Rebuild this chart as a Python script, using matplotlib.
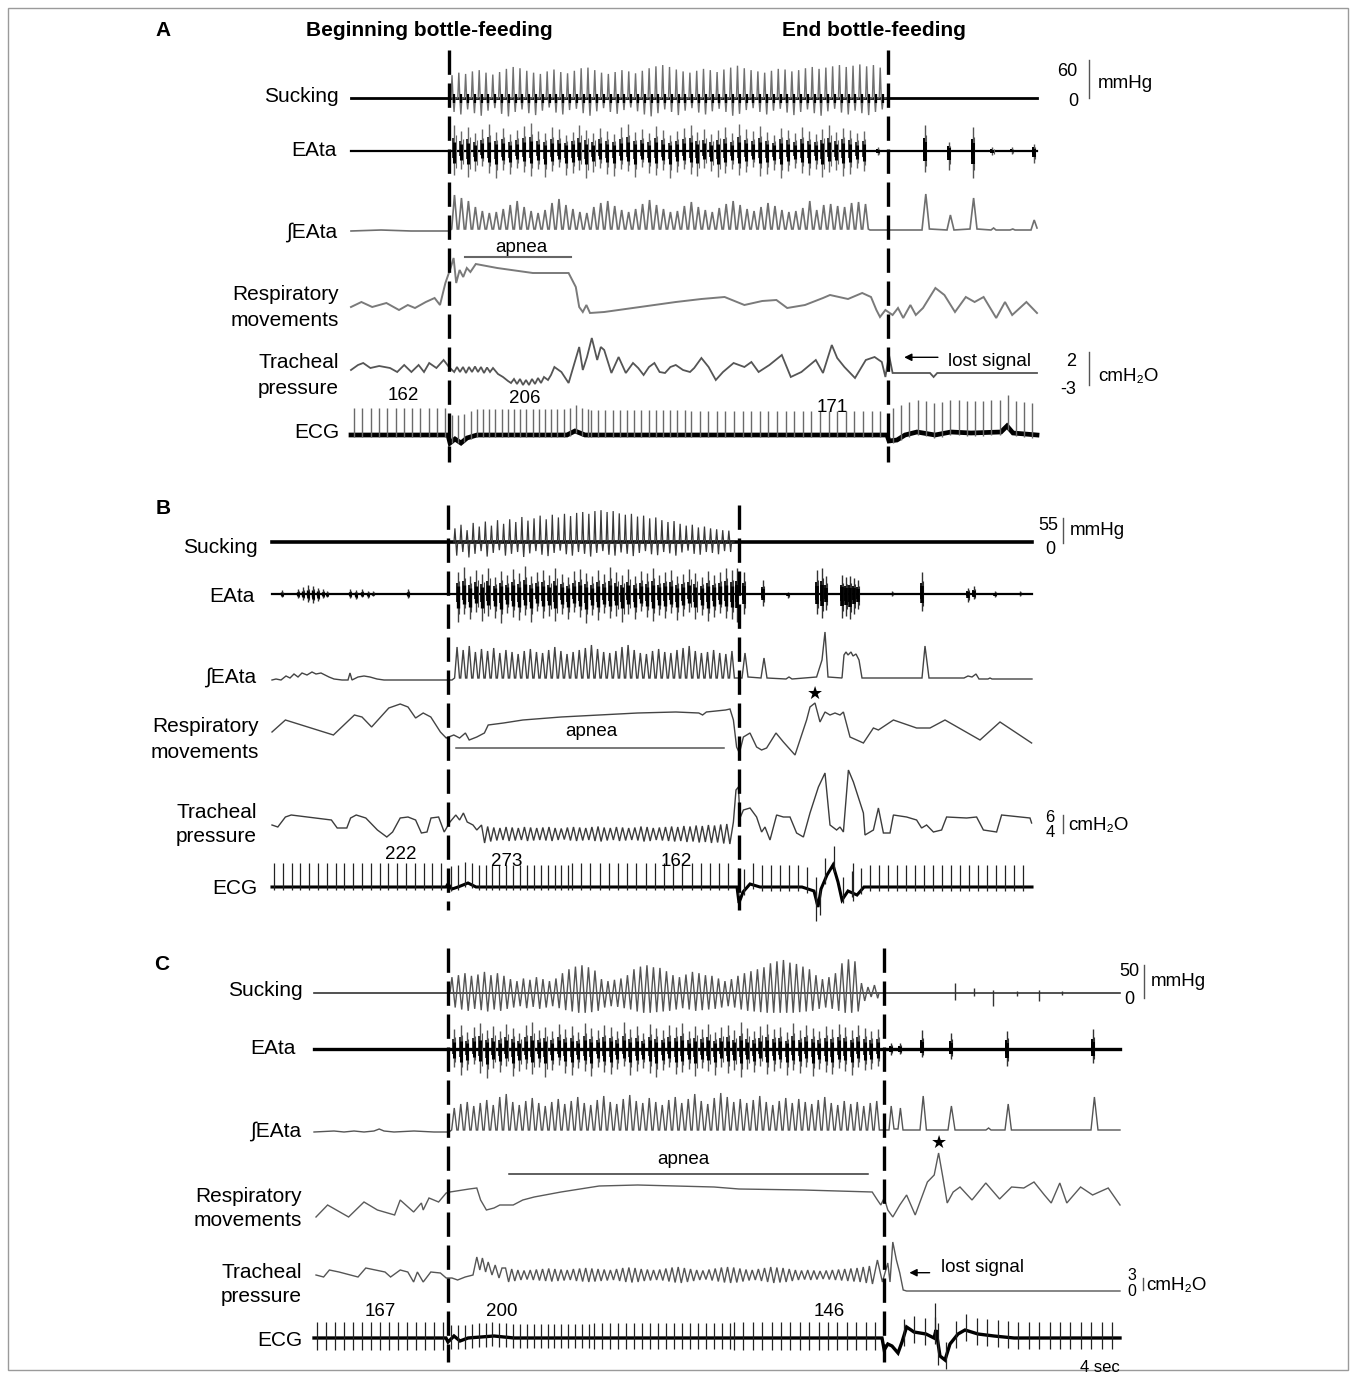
import numpy as np
import matplotlib
matplotlib.use("Agg")
import matplotlib.pyplot as plt
from matplotlib.lines import Line2D
from matplotlib.patches import Rectangle, FancyArrowPatch

plt.rcParams['font.family'] = ['Liberation Sans', 'DejaVu Sans']

# ======================= DATA (time in s, amplitudes in mmHg or a.u.) =======================
# ---------- Panel A ----------
A_duration = 34.3
A_feed = [4.9, 26.85]
sucA_window = [5.0, 26.75]
sucA_peak = [36, 40, 38, 42, 44, 40, 37, 41, 46, 49, 47, 43, 40, 38, 42, 45, 41, 39, 43, 47,
             48, 44, 40, 38, 41, 44, 42, 39, 43, 47, 50, 52, 49, 45, 42, 40, 43, 46, 44, 41,
             45, 48, 51, 47, 44, 42, 40, 43, 46, 45, 42, 44, 47, 49, 46, 48, 50, 52, 49, 51,
             53, 50, 52, 48]
sucA_trough = [-22, -26, -18, -24, -28, -20, -16, -25, -29, -22, -18, -24, -27, -20, -15, -23,
               -26, -19, -17, -24, -28, -21, -16, -22, -25, -19, -15, -21, -26, -29, -24, -18,
               -22, -27, -20, -16, -23, -26, -21, -17, -22, -28, -25, -19, -16, -22, -26, -20,
               -17, -23, -27, -22, -18, -24, -28, -21, -17, -23, -26, -20, -24, -27, -22, -18]
eaA_window = [5.0, 25.83]
eaA_up = [26, 20, 24, 18, 22, 27, 19, 23, 17, 21, 25, 28, 20, 18, 24, 22, 16, 19, 26, 21,
          18, 23, 20, 17, 24, 27, 19, 22, 18, 25, 21, 16, 20, 23, 26, 19, 22, 17, 21, 24,
          18, 27, 22, 20, 25, 19, 16, 23, 21, 18, 24, 20, 17, 22, 26, 19, 23, 21, 18, 20]
eaA_dn = [24, 18, 26, 20, 15, 22, 27, 19, 23, 17, 21, 25, 18, 26, 20, 16, 24, 22, 19, 27,
          21, 17, 23, 25, 18, 20, 26, 16, 22, 24, 19, 27, 21, 18, 23, 25, 17, 20, 26, 22,
          18, 24, 21, 16, 25, 23, 19, 27, 20, 17, 22, 24, 18, 26, 21, 19, 25, 23, 17, 20]
eaA_post_t = [26.36, 28.68, 29.88, 31.09, 32.07, 33.06, 34.13]
eaA_post_up = [4, 26, 9, 24, 4, 4, 7]
eaA_post_dn = [4, 21, 19, 27, 4, 3, 12]
ieA_window = [5.0, 25.9]
ieA_peak = [36, 33, 30, 24, 20, 18, 19, 22, 26, 30, 24, 20, 18, 21, 28, 32, 26, 22, 19, 18,
            24, 28, 30, 25, 21, 19, 22, 27, 31, 26, 22, 19, 20, 25, 29, 24, 21, 19, 23, 27,
            30, 26, 22, 20, 24, 28, 25, 21, 19, 20, 23, 30, 21, 26, 27, 25, 24, 28, 29, 27]
ieA_pre_t = [0, 1.5, 3.0, 4.9]
ieA_pre_v = [0, 1, 0, 0]
ieA_post_t = [25.95, 28.55, 28.74, 28.92, 29.8, 29.97, 30.15, 30.95, 31.13, 31.3, 32.0, 32.13,
              32.25, 32.95, 33.09, 33.2, 34.0, 34.16, 34.3]
ieA_post_v = [1, 1, 37, 2, 1, 16, 1, 2, 33, 2, 1, 3, 1, 1, 2, 1, 1, 11, 3]
respA_t = [0, 0.52, 1.06, 1.77, 2.4, 2.84, 3.2, 3.74, 4.18, 4.45, 4.72, 4.98, 5.13, 5.26, 5.43,
           5.61, 5.79, 5.97, 6.24, 7.31, 9.09, 9.99, 10.88, 11.24, 11.41, 11.59, 11.77, 11.95,
           12.66, 14.45, 16.24, 17.52, 18.68, 19.67, 20.56, 21.27, 21.81, 22.7, 23.6, 23.95,
           24.85, 25.56, 26.0, 26.27, 26.45, 26.72, 27.08, 27.35, 27.61, 27.97, 28.24, 28.6,
           29.22, 29.67, 30.2, 30.74, 31.18, 31.63, 32.26, 32.7, 33.06, 33.77, 34.3]
respA_v = [3, 8, 3, 7, 0, 5, 2, 8, 12, 5, 27, 42, 52, 27, 40, 33, 42, 38, 46, 42, 37, 37, 37,
           23, 3, -2, 5, -3, -2, 3, 8, 11, 13, 5, 9, 10, 2, 5, 12, 15, 11, 17, 13, 0, -7, 0,
           -5, 2, -8, 5, -5, 2, 22, 15, -2, 13, 8, 13, -8, 8, -5, 8, -3]
trA_t = [0, 0.35, 0.61, 0.97, 1.41, 1.95, 2.31, 2.66, 3.02, 3.38, 3.65, 3.91, 4.27, 4.63, 4.9,
         5.16, 5.3, 5.45, 5.6, 5.75, 5.9, 6.05, 6.2, 6.35, 6.5, 6.65, 6.8, 6.95, 7.1, 7.35,
         7.6, 7.85, 8.0, 8.15, 8.3, 8.45, 8.6, 8.75, 8.9, 9.05, 9.2, 9.35, 9.5, 9.65, 9.85,
         10.0, 10.17, 10.52, 10.88, 11.41, 11.59, 11.8, 12.04, 12.31, 12.49, 12.66, 13.02,
         13.38, 13.74, 14.1, 14.36, 14.63, 14.9, 15.17, 15.43, 15.7, 15.97, 16.24, 16.6,
         16.95, 17.16, 17.52, 17.88, 18.24, 18.6, 19.13, 19.67, 20.02, 20.38, 20.92, 21.54,
         21.99, 22.52, 23.24, 23.6, 24.04, 24.31, 24.67, 25.2, 25.74, 26.18, 26.54, 26.72,
         26.9, 27.08, 27.35, 28.95, 29.13, 29.31, 34.3]
trA_v = [2, 7, 9, 4, 6, 4, 0, 7, 0, 7, 0, 9, 4, 12, 5, 0, 5, 0, 5, -1, 5, 0, 5.5, 0, 5, -1,
         4.5, 0, 4, -2, -5, -9, -11, -7, -12, -7, -13, -8, -13, -7, -12, -6, -11, -5, -8, -3,
         5, 0, -11, 25, 2, 15, 34, 12, 25, 22, -1, 15, -1, 9, 4, -3, 5, 9, 0, -1, 5, 7, 2, 0,
         4, 14, 5, -8, 0, 9, 5, 10, 0, 7, 17, -5, 0, 12, -1, 27, 14, 5, -6, 12, 15, 10, -5,
         17, -1, -1, -1, -5, -1, -1]
ecgA_start = [0.15, 5.05, 12.0, 17.0, 27.1]
ecgA_end = [4.8, 12.0, 17.0, 26.8, 34.25]
ecgA_rr = [0.415, 0.31, 0.36, 0.43, 0.41]
ecgA_h = [27, 26, 25, 24, 32]
ecgA_d = [2, 2, 2, 2, 3]
ecgA_base_t = [0, 4.85, 4.95, 5.2, 5.5, 5.8, 6.3, 10.8, 11.2, 11.7, 26.8, 26.9, 27.3, 27.7,
               28.3, 29.2, 30.0, 31.0, 32.5, 32.8, 33.1, 34.3]
ecgA_base_v = [0, 0, -8, -4, -8, -3, 0, 0, 4, 0, 0, -6, -5, 0, 3, 0, 3, 2, 3, 9, 2, 0]
hrA_labels = ['162', '206', '171']

# ---------- Panel B ----------
B_duration = 38.0
B_feed = [8.8, 23.35]
sucB_window = [9.1, 23.1]
sucB_peak = [30, 38, 26, 42, 34, 45, 36, 48, 40, 50, 44, 55, 47, 52, 58, 50, 60, 54, 62, 57,
             64, 66, 62, 68, 70, 66, 68, 63, 60, 62, 56, 58, 52, 54, 48, 44, 46, 40, 36, 38,
             32, 34, 30, 28, 26, 25]
sucB_trough = [-30, -22, -34, -26, -20, -32, -24, -18, -30, -26, -22, -33, -25, -20, -28, -31,
               -24, -19, -27, -30, -22, -26, -32, -24, -20, -28, -30, -23, -26, -31, -24, -20,
               -27, -29, -22, -25, -30, -23, -19, -26, -28, -22, -24, -27, -20, -22]
eaB_window = [9.15, 23.15]
eaB_up = [22, 27, 18, 24, 20, 26, 17, 23, 19, 25, 21, 28, 18, 22, 24, 19, 26, 20, 17, 23,
          25, 21, 18, 24, 20, 27, 22, 19, 25, 18, 23, 21, 26, 19, 22, 24, 18, 20, 25, 21,
          17, 23, 19, 22, 26, 24]
eaB_dn = [28, 20, 25, 18, 27, 22, 24, 29, 19, 23, 26, 21, 28, 17, 24, 22, 27, 20, 25, 18,
          23, 29, 21, 26, 19, 24, 22, 28, 20, 25, 17, 23, 27, 21, 24, 19, 26, 22, 18, 25,
          21, 27, 23, 19, 24, 25]
eaB_pre_t = [0.48, 1.3, 1.55, 1.8, 2.05, 2.3, 2.55, 2.75, 3.9, 4.2, 4.5, 4.8, 5.05, 6.8]
eaB_pre_up = [4, 5, 7, 9, 8, 6, 5, 3, 5, 4, 5, 3, 3, 5]
eaB_pre_dn = [3, 4, 6, 8, 9, 7, 4, 3, 4, 5, 3, 4, 2, 4]
eaB_post_t = [23.25, 23.6, 24.55, 25.8, 27.25, 27.5, 27.7, 28.5, 28.7, 28.9, 29.1, 29.3, 31.0,
              32.5, 34.8, 35.1, 36.15, 37.4]
eaB_post_up = [26, 22, 14, 2, 24, 26, 18, 19, 17, 18, 16, 14, 3, 22, 6, 8, 3, 3]
eaB_post_dn = [28, 20, 12, 4, 20, 24, 16, 24, 22, 25, 20, 15, 2, 17, 8, 5, 3, 2]
ieB_window = [9.1, 23.15]
ieB_peak = [33, 30, 34, 28, 31, 29, 32, 27, 30, 28, 26, 29, 31, 28, 27, 30, 33, 29, 26, 28,
            30, 32, 35, 31, 28, 27, 29, 33, 35, 30, 27, 26, 29, 31, 28, 27, 30, 32, 34, 29,
            27, 28, 30, 27, 26, 29]
ieB_pre_t = [0, 0.2, 0.45, 0.7, 0.9, 1.1, 1.3, 1.5, 1.75, 2.0, 2.2, 2.45, 2.65, 2.85, 3.1,
             3.5, 3.8, 3.9, 4.0, 4.3, 4.6, 4.9, 5.25, 5.6, 9.0]
ieB_pre_v = [0, 1, 0, 4, 2, 6, 3, 7, 5, 8, 6, 7, 5, 3, 1, 0, 0, 7, 0, 3, 4, 3, 1, 0, 0]
ieB_post_t = [23.15, 23.5, 23.65, 23.8, 24.45, 24.6, 24.75, 25.7, 25.85, 26.0, 27.23, 27.5,
              27.65, 27.8, 28.5, 28.6, 28.7, 28.8, 28.95, 29.05, 29.2, 29.35, 29.5, 32.5,
              32.65, 32.85, 34.6, 34.8, 35.0, 35.2, 35.35, 35.8, 35.9, 36.0, 38.0]
ieB_post_v = [2, 2, 27, 3, 2, 22, 2, 1, 3, 1, 3, 20, 48, 3, 2, 25, 28, 25, 28, 24, 26, 20, 2,
              2, 34, 2, 2, 4, 3, 6, 1, 1, 2, 1, 1]
respB_t = [0, 0.67, 3.07, 4.12, 4.5, 4.98, 5.84, 6.41, 6.8, 7.18, 7.56, 7.94, 8.42, 8.71, 9.09,
           9.38, 9.67, 9.86, 10.24, 10.62, 10.81, 11.58, 12.54, 14.45, 16.36, 18.28, 20.19,
           21.34, 21.53, 21.72, 22.68, 22.9, 23.07, 23.23, 23.37, 23.57, 23.9, 24.23, 24.48,
           24.73, 25.2, 25.57, 26.15, 26.73, 26.9, 27.15, 27.4, 27.65, 27.9, 28.15, 28.4,
           28.57, 28.9, 29.57, 30.07, 30.32, 31.07, 32.23, 32.9, 33.65, 35.4, 36.4, 37.98]
respB_v = [8, 20, 5, 25, 23, 13, 32, 36, 33, 22, 27, 23, 8, 2, 5, 2, 7, 0, 3, 7, 15, 17, 20,
           23, 25, 27, 28, 27, 25, 28, 30, 31, 20, -7, -13, 3, 7, -7, -10, -8, 7, -2, -15, 20,
           33, 37, 18, 28, 25, 27, 25, 28, 3, -3, 12, 10, 20, 12, 12, 20, 0, 18, -3]
trB_pre_t = [0, 0.29, 0.67, 0.96, 2.97, 3.26, 3.74, 3.93, 4.21, 4.69, 5.27, 5.74, 6.03, 6.41,
             6.8, 7.18, 7.47, 7.75, 7.95, 8.33, 8.61, 8.9, 9.19, 9.38, 9.57, 9.76, 10.05, 10.24]
trB_pre_v = [5, 3, 13, 15, 10, 2, 2, 12, 15, 12, 0, -7, -2, 12, 13, 10, -3, -2, 12, 13, -2, 8,
             15, 10, 17, 8, 5, 0]
trB_osc_window = [10.4, 22.97]
trB_osc_mid = -4
trB_osc_amp = [18, 15, 13, 12, 14, 13, 12, 14, 13, 12, 13, 14, 12, 11, 13, 14, 13, 12, 14, 15,
               13, 12, 14, 13, 12, 13, 15, 14, 12, 13, 14, 15, 14, 16, 15, 17, 16, 18, 17, 19, 20]
trB_post_t = [23.07, 23.2, 23.32, 23.4, 23.57, 23.9, 24.23, 24.48, 24.65, 24.9, 25.23, 25.57,
              25.9, 26.23, 26.57, 26.9, 27.32, 27.65, 27.9, 28.23, 28.4, 28.57, 28.82, 29.07,
              29.57, 29.65, 30.07, 30.32, 30.57, 30.9, 31.07, 31.73, 32.23, 32.48, 32.73, 33.07,
              33.48, 33.73, 34.73, 35.23, 35.57, 36.23, 36.48, 37.4, 37.9, 37.98]
trB_post_v = [8, 40, 43, 12, 20, 22, 13, -2, 3, -10, 15, 13, 13, -3, -7, 17, 43, 57, 5, 0, 3,
              -2, 60, 48, 17, -5, 0, 22, -3, -3, 15, 13, 10, 2, 5, -2, 0, 13, 12, 13, 0, -2, 15,
              13, 12, 7]
ecgB_start = [0.1, 8.95, 15.0, 23.6]
ecgB_end = [8.75, 15.0, 23.3, 37.95]
ecgB_rr = [0.44, 0.345, 0.46, 0.45]
ecgB_h = [24, 22, 24, 22]
ecgB_d = [3, 3, 3, 4]
ecgB_extra_t = [27.2, 27.4, 29.05]
ecgB_extra_h = [8, 5, 30]
ecgB_extra_d = [22, 20, 8]
ecgB_base_t = [0, 8.7, 8.8, 9.0, 9.3, 9.8, 10.2, 23.25, 23.35, 23.55, 23.9, 24.4, 26.5, 27.1,
               27.3, 27.45, 27.75, 28.05, 28.3, 28.5, 28.8, 29.25, 29.6, 38.0]
ecgB_base_v = [0, 0, 3, -2, 0, 4, 0, 0, -16, -5, 3, 0, 0, -4, -20, -2, 12, 22, 5, -13, -4, -8,
               0, 0]
hrB_labels = ['222', '273', '162']

# ---------- Panel C ----------
C_duration = 40.3
C_feed = [6.7, 28.48]
sucC_window = [6.8, 28.25]
sucC_peak = [24, 27, 30, 26, 28, 32, 27, 30, 26, 21, 18, 22, 20, 24, 21, 18, 22, 30, 36, 40,
             42, 39, 34, 21, 18, 20, 22, 27, 36, 40, 42, 39, 38, 33, 27, 24, 28, 32, 30, 27,
             26, 22, 18, 21, 26, 30, 33, 36, 39, 45, 48, 50, 46, 44, 40, 36, 27, 21, 24, 30,
             45, 51, 48, 15, 9, 12]
sucC_trough = [-22, -25, -27, -24, -26, -28, -25, -27, -24, -22, -20, -23, -21, -24, -22, -20,
               -23, -26, -28, -30, -30, -29, -27, -22, -20, -21, -23, -25, -28, -30, -30, -29,
               -28, -27, -25, -23, -25, -27, -26, -25, -24, -22, -20, -22, -25, -27, -28, -29,
               -30, -30, -30, -30, -30, -29, -28, -27, -24, -22, -24, -27, -30, -30, -28, -12,
               -6, -8]
sucC_post_t = [32.04, 32.99, 33.94, 35.14, 36.26, 37.38]
sucC_post_up = [15, 8, 5, 3, 5, 3]
sucC_post_dn = [11, 5, 20, 4, 12, 3]
eaC_window = [6.85, 28.35]
eaC_up = [20, 24, 17, 22, 26, 19, 23, 18, 25, 21, 16, 24, 27, 19, 22, 18, 25, 20, 23, 17,
          26, 21, 19, 24, 22, 18, 27, 20, 23, 16, 25, 21, 19, 24, 22, 26, 18, 23, 20, 25,
          17, 22, 24, 19, 27, 21, 18, 23, 25, 20, 22, 17, 26, 19, 24, 21, 18, 23, 20, 25,
          22, 19, 24, 21, 18, 20]
eaC_dn = [18, 26, 21, 15, 24, 29, 19, 23, 17, 27, 22, 20, 25, 18, 28, 21, 16, 24, 26, 19,
          22, 27, 18, 23, 25, 20, 17, 26, 22, 19, 24, 28, 21, 18, 25, 23, 20, 27, 19, 22,
          26, 18, 24, 21, 28, 20, 23, 17, 25, 22, 19, 26, 21, 24, 18, 27, 20, 23, 25, 19,
          22, 26, 18, 21, 20, 17]
eaC_post_t = [28.86, 29.28, 30.4, 31.84, 34.63, 38.93]
eaC_post_up = [6, 6, 19, 16, 18, 20]
eaC_post_dn = [6, 5, 8, 10, 17, 14]
ieC_window = [6.85, 28.3]
ieC_peak = [24, 28, 30, 26, 29, 32, 27, 35, 38, 30, 27, 31, 34, 29, 26, 30, 33, 28, 31, 35,
            29, 27, 32, 36, 30, 28, 33, 37, 31, 29, 34, 30, 27, 32, 35, 29, 33, 38, 31, 28,
            34, 39, 35, 30, 33, 29, 32, 36, 30, 27, 31, 34, 29, 33, 30, 28, 32, 35, 29, 27,
            31, 28, 30, 26, 29, 31]
ieC_pre_t = [0, 1.0, 1.5, 2.0, 2.5, 3.0, 3.26, 3.5, 4.0, 5.0, 6.0, 6.75]
ieC_pre_v = [0, 1, 0, 1, 0, 1, 3, 1, 0, 1, 0, 0]
ieC_post_t = [28.3, 28.75, 28.86, 29.0, 29.2, 29.32, 29.45, 30.3, 30.46, 30.62, 31.7, 31.87,
              32.05, 33.6, 33.73, 33.85, 34.55, 34.71, 34.87, 38.85, 39.02, 39.2, 40.3]
ieC_post_v = [2, 2, 26, 3, 3, 24, 2, 2, 36, 2, 2, 26, 2, 2, 4, 2, 2, 28, 2, 2, 35, 2, 2]
respC_t = [0.1, 0.68, 1.73, 2.5, 3.17, 4.03, 4.31, 4.98, 5.37, 5.46, 5.75, 6.23, 6.61, 6.8,
           7.76, 8.14, 8.33, 8.62, 9.0, 9.29, 9.96, 10.44, 11.01, 12.35, 14.26, 16.18, 18.09,
           20.0, 21.25, 24.47, 27.91, 28.17, 28.34, 28.51, 28.69, 28.94, 29.29, 29.63, 30.06,
           30.67, 31.01, 31.23, 31.44, 31.66, 31.96, 32.3, 32.9, 33.59, 34.28, 34.88, 35.49,
           36.0, 36.52, 36.86, 37.29, 37.64, 38.33, 38.93, 39.71, 40.3]
respC_v = [-7, 5, -7, 8, 0, -5, 10, -2, 7, 0, 12, 8, 17, 18, 21, 22, 10, 0, 2, 5, 5, 10, 13,
           18, 24, 25, 24, 23, 21, 20, 18, 10, 5, 12, 0, -7, 5, 15, -5, 28, 35, 57, 33, 7, 18,
           23, 10, 27, 11, 23, 22, 28, 15, 7, 27, 7, 23, 15, 22, 5]
trC_pre_t = [0.1, 0.48, 0.77, 1.25, 2.2, 2.59, 3.55, 3.83, 4.31, 4.69, 4.98, 5.17, 5.46, 5.84,
             6.32, 6.61, 6.9, 7.18, 7.56, 7.95, 8.14, 8.29, 8.42, 8.58, 8.71, 8.9, 9.06, 9.25, 9.4]
trC_pre_v = [5, 3, 10, 8, 3, 12, 8, 3, 10, 8, -2, 8, -2, 8, 7, 2, 2, 0, 3, 5, 23, 10, 22, 8,
             18, 5, 15, 2, 12]
trC_osc_window = [9.5, 28.0]
trC_osc_mid = 5
trC_osc_amp = [14, 12, 10, 9, 10, 11, 12, 13, 12, 11, 10, 12, 13, 14, 13, 12, 11, 10, 12, 14,
               15, 14, 12, 11, 10, 11, 13, 15, 16, 14, 12, 10, 9, 11, 13, 15, 16, 15, 13, 11,
               10, 12, 14, 16, 15, 14, 12, 10, 9, 10, 9, 8, 9, 10, 11, 12, 13, 14, 16, 18]
trC_post_t = [28.17, 28.42, 28.69, 28.8, 28.94, 29.12, 29.29, 29.46, 29.63, 40.3]
trC_post_v = [20, -2, 17, -2, 38, 20, 7, -10, -11, -11]
ecgC_start = [0.15, 6.85, 14.0, 21.0, 29.5]
ecgC_end = [6.6, 14.0, 21.0, 28.4, 40.25]
ecgC_rr = [0.45, 0.345, 0.4, 0.47, 0.52]
ecgC_h = [16, 14, 15, 16, 16]
ecgC_d = [12, 10, 11, 12, 11]
ecgC_extra_t = [31.05, 31.2]
ecgC_extra_h = [31, 20]
ecgC_extra_d = [5, 22]
ecgC_base_t = [0, 6.6, 6.7, 7.0, 7.3, 7.7, 9.0, 10.0, 28.4, 28.51, 28.69, 28.9, 29.2, 29.4,
               29.63, 30.0, 30.6, 31.0, 31.1, 31.3, 31.55, 31.8, 32.2, 32.55, 33.2, 34.0, 35.0,
               40.3]
ecgC_base_v = [0, 0, -4, 2, -3, 0, 2, 0, 0, -12, -6, -8, -15, -4, 11, 6, 4, 0, 8, -18, -22, -6,
               4, 8, 4, 2, 0, 0]
hrC_labels = ['167', '200', '146']

# ======================= LAYOUT (pixels of the 1356 x 1374 canvas) =======================
W, H = 1356, 1374
PX_PER_S = 20.0
fig = plt.figure(figsize=(W / 100, H / 100), dpi=100)


def ftext(x, y, s, **kw):
    kw.setdefault('va', 'center')
    fig.text(x / W, 1 - y / H, s, **kw)


def fline(xs, ys, **kw):
    fig.add_artist(Line2D(np.array(xs) / W, 1 - np.array(ys) / H,
                          transform=fig.transFigure, **kw))


def panel_axes(x0, dur, top, bottom):
    ax = fig.add_axes([x0 / W, 1 - bottom / H, dur * PX_PER_S / W, (bottom - top) / H])
    ax.set_xlim(0, dur)
    ax.set_ylim(bottom, top)
    ax.axis('off')
    return ax


def plot_trace(ax, base, gain, t, v, **kw):
    ax.plot(t, base - gain * np.asarray(v, float), clip_on=False, solid_joinstyle='miter', **kw)


def spiky_wave(window, peaks, troughs):
    n = len(peaks)
    t0, t1 = window
    P = (t1 - t0) / n
    ts, vs = [t0], [0]
    for i in range(n):
        tc = t0 + i * P
        ts += [tc + 0.15 * P, tc + 0.3 * P, tc + 0.45 * P, tc + 0.6 * P, tc + P]
        vs += [peaks[i], 0, troughs[i], 0, 0]
    return ts, vs


def sine_wave(window, peaks, troughs):
    n = len(peaks)
    t0, t1 = window
    P = (t1 - t0) / n
    ts, vs = [t0], [0]
    for i in range(n):
        tc = t0 + i * P
        ts += [tc + 0.3 * P, tc + 0.8 * P]
        vs += [peaks[i], troughs[i]]
    ts.append(t1)
    vs.append(0)
    return ts, vs


def integ_wave(window, peaks, trough=2):
    n = len(peaks)
    t0, t1 = window
    P = (t1 - t0) / n
    ts, vs = [], []
    for i in range(n):
        tc = t0 + i * P
        ts += [tc + 0.1 * P, tc + 0.5 * P, tc + 0.9 * P]
        vs += [trough, peaks[i], trough]
    return ts, vs


def osc_wave(window, amps, mid):
    n = len(amps)
    t0, t1 = window
    P = (t1 - t0) / n
    ts, vs = [], []
    for i in range(n):
        tc = t0 + i * P
        ts += [tc + 0.25 * P, tc + 0.75 * P]
        vs += [mid + amps[i] / 2, mid - amps[i] / 2]
    return ts, vs


def burst_times(window, n):
    t0, t1 = window
    P = (t1 - t0) / n
    return t0 + (np.arange(n) + 0.5) * P


def draw_bursts(ax, base, times, ups, dns, gray, core_lw):
    times = np.asarray(times, float)
    ups = np.asarray(ups, float)
    dns = np.asarray(dns, float)
    ax.vlines(times, base + dns, base - ups, color=gray, lw=1.0, clip_on=False)
    ax.vlines(times + 0.06, base + 0.7 * dns, base - 0.6 * ups, color=gray, lw=0.8,
              clip_on=False)
    ax.vlines(times, base + 0.5 * dns, base - 0.35 * ups, color='black', lw=core_lw,
              clip_on=False)
    ax.vlines(times - 0.05, base + 0.3 * dns, base - 0.5 * ups, color='black',
              lw=core_lw * 0.5, clip_on=False)


def draw_ecg(ax, base, bt, bv, starts, ends, rrs, hs, ds, spike_col, base_lw, spike_lw,
             extra=None):
    plot_trace(ax, base, 1, bt, bv, color='black', lw=base_lw)
    beats, hh, dd = [], [], []
    for s, e, r, h, d in zip(starts, ends, rrs, hs, ds):
        b = np.arange(s, e, r)
        beats += list(b)
        hh += [h] * len(b)
        dd += [d] * len(b)
    if extra is not None:
        beats += list(extra[0])
        hh += list(extra[1])
        dd += list(extra[2])
    beats = np.array(beats)
    b0 = base - np.interp(beats, bt, bv)
    ax.vlines(beats, b0 + np.array(dd), b0 - np.array(hh), color=spike_col, lw=spike_lw,
              clip_on=False)


def draw_dashed(ax, t, y0, y1):
    ax.plot([t, t], [y0, y1], color='black', lw=2.4, dashes=(7.3, 2.6), clip_on=False,
            solid_capstyle='butt', dash_capstyle='butt')


LABEL_FS = 15
SMALL_FS = 13.5

# ---------------- Panel A ----------------
LA = dict(x0=351, top=40, bottom=470, suck=98, eata=151, ie=231, resp=310, trach=372, ecg=435,
          gain=38 / 60)
ax = panel_axes(LA['x0'], A_duration, LA['top'], LA['bottom'])
plot_trace(ax, LA['suck'], 1, [0, A_duration], [0, 0], color='black', lw=2.0)
ts, vs = spiky_wave(sucA_window, sucA_peak, sucA_trough)
plot_trace(ax, LA['suck'], LA['gain'], ts, vs, color='#707070', lw=1.0)
bt = burst_times(sucA_window, len(sucA_peak))
ax.vlines(bt, LA['suck'] + 5, LA['suck'] - 4, color='black', lw=1.6)
plot_trace(ax, LA['eata'], 1, [0, A_duration], [0, 0], color='black', lw=1.6)
draw_bursts(ax, LA['eata'], burst_times(eaA_window, len(eaA_up)), eaA_up, eaA_dn, '#6a6a6a', 2.2)
draw_bursts(ax, LA['eata'], eaA_post_t, eaA_post_up, eaA_post_dn, '#555555', 2.8)
ts, vs = integ_wave(ieA_window, ieA_peak)
plot_trace(ax, LA['ie'], 1, ieA_pre_t + ts + ieA_post_t, ieA_pre_v + vs + ieA_post_v,
           color='#6f6f6f', lw=1.2)
plot_trace(ax, LA['resp'], 1, respA_t, respA_v, color='#7a7a7a', lw=1.4)
plot_trace(ax, LA['trach'], 1, trA_t, trA_v, color='#555555', lw=1.3)
draw_ecg(ax, LA['ecg'], ecgA_base_t, ecgA_base_v, ecgA_start, ecgA_end, ecgA_rr, ecgA_h, ecgA_d,
         '#6a6a6a', 3.4, 1.0)
for tf in A_feed:
    draw_dashed(ax, tf, 50, 462)

ftext(163, 31, 'A', ha='center', fontsize=15, fontweight='bold')
ftext(429, 31, 'Beginning bottle-feeding', ha='center', fontsize=15, fontweight='bold')
ftext(874, 31, 'End bottle-feeding', ha='center', fontsize=15, fontweight='bold')
for s, y, xr in [('Sucking', 97, 339), ('EAta', 151, 337), ('\u222bEAta', 232, 337),
                 ('Respiratory', 295, 339), ('movements', 320, 339), ('Tracheal', 362, 339),
                 ('pressure', 388, 339), ('ECG', 433, 339)]:
    ftext(xr, y, s, ha='right', fontsize=LABEL_FS)
ftext(521, 247, 'apnea', ha='center', fontsize=SMALL_FS)
fline([465, 571], [256.7, 256.7], color='#666666', lw=1.5)
for s, x, y in zip(hrA_labels, [403, 525, 832], [396, 398, 408]):
    ftext(x, y, s, ha='center', fontsize=SMALL_FS)
ftext(1077, 71, '60', ha='right', fontsize=13)
ftext(1078, 102, '0', ha='right', fontsize=13)
fline([1089, 1089], [60, 98], color='#555555', lw=1.0)
ftext(1098, 83, 'mmHg', ha='left', fontsize=SMALL_FS)
ftext(1076, 362, '2', ha='right', fontsize=13)
ftext(1076, 389, '-3', ha='right', fontsize=13)
fline([1089, 1089], [352, 385], color='#555555', lw=1.0)
ftext(1098, 376, 'cmH\u2082O', ha='left', fontsize=SMALL_FS)
ftext(948, 362, 'lost signal', ha='left', fontsize=SMALL_FS)
fig.add_artist(FancyArrowPatch((940.7 / W, 1 - 357.3 / H), (901.4 / W, 1 - 357.3 / H),
                               transform=fig.transFigure, arrowstyle='-|>', mutation_scale=11,
                               lw=1.0, color='black'))

# ---------------- Panel B ----------------
LB = dict(x0=272, top=495, bottom=915, suck=542, eata=594, ie=680, resp=740, trach=830, ecg=887,
          gain=25 / 55)
ax = panel_axes(LB['x0'], B_duration, LB['top'], LB['bottom'])
plot_trace(ax, LB['suck'], 1, [0, B_duration], [0, 0], color='black', lw=2.6)
ts, vs = spiky_wave(sucB_window, sucB_peak, sucB_trough)
plot_trace(ax, LB['suck'], LB['gain'], ts, vs, color='#3a3a3a', lw=0.9)
plot_trace(ax, LB['eata'], 1, [0, B_duration], [0, 0], color='black', lw=1.6)
draw_bursts(ax, LB['eata'], eaB_pre_t, eaB_pre_up, eaB_pre_dn, '#333333', 2.0)
draw_bursts(ax, LB['eata'], burst_times(eaB_window, len(eaB_up)), eaB_up, eaB_dn, '#444444', 2.4)
draw_bursts(ax, LB['eata'], eaB_post_t, eaB_post_up, eaB_post_dn, '#333333', 2.6)
ts, vs = integ_wave(ieB_window, ieB_peak)
plot_trace(ax, LB['ie'], 1, ieB_pre_t + ts + ieB_post_t, ieB_pre_v + vs + ieB_post_v,
           color='#444444', lw=1.0)
plot_trace(ax, LB['resp'], 1, respB_t, respB_v, color='#444444', lw=1.0)
ts, vs = osc_wave(trB_osc_window, trB_osc_amp, trB_osc_mid)
plot_trace(ax, LB['trach'], 1, trB_pre_t + ts + trB_post_t, trB_pre_v + vs + trB_post_v,
           color='#3c3c3c', lw=1.0)
draw_ecg(ax, LB['ecg'], ecgB_base_t, ecgB_base_v, ecgB_start, ecgB_end, ecgB_rr, ecgB_h, ecgB_d,
         '#222222', 2.2, 0.9, extra=(ecgB_extra_t, ecgB_extra_h, ecgB_extra_d))
for tf in B_feed:
    draw_dashed(ax, tf, 505, 910)

ftext(163, 508, 'B', ha='center', fontsize=15, fontweight='bold')
for s, y, xr in [('Sucking', 547, 258), ('EAta', 596, 255), ('\u222bEAta', 677, 256),
                 ('Respiratory', 727, 259), ('movements', 752, 259), ('Tracheal', 812, 257),
                 ('pressure', 837, 257), ('ECG', 889, 257)]:
    ftext(xr, y, s, ha='right', fontsize=LABEL_FS)
ftext(591, 732, 'apnea', ha='center', fontsize=SMALL_FS)
fline([456, 723.6], [747.7, 747.7], color='#555555', lw=1.1)
for s, x, y in zip(hrB_labels, [401, 507, 676], [855, 862, 862]):
    ftext(x, y, s, ha='center', fontsize=SMALL_FS)
ftext(815, 694, '\u2605', ha='center', fontsize=13, family=['DejaVu Sans'])
ftext(1058, 525, '55', ha='right', fontsize=13)
ftext(1055, 549, '0', ha='right', fontsize=13)
fline([1063, 1063], [518, 543], color='#555555', lw=1.0)
ftext(1070, 531, 'mmHg', ha='left', fontsize=SMALL_FS)
ftext(1050, 817, '6', ha='center', fontsize=12)
ftext(1050, 833, '4', ha='center', fontsize=12)
fline([1063, 1063], [815, 833], color='#555555', lw=1.0)
ftext(1068, 825, 'cmH\u2082O', ha='left', fontsize=SMALL_FS)

# ---------------- Panel C ----------------
LC = dict(x0=314, top=940, bottom=1372, suck=993, eata=1049, ie=1132, resp=1210, trach=1280,
          ecg=1338, gain=33 / 50)
ax = panel_axes(LC['x0'], C_duration, LC['top'], LC['bottom'])
plot_trace(ax, LC['suck'], 1, [0, C_duration], [0, 0], color='#333333', lw=1.2)
ts, vs = sine_wave(sucC_window, sucC_peak, sucC_trough)
plot_trace(ax, LC['suck'], LC['gain'], ts, vs, color='#555555', lw=1.0)
sp = np.asarray(sucC_post_t, float)
ax.vlines(sp, LC['suck'] + LC['gain'] * np.asarray(sucC_post_dn),
          LC['suck'] - LC['gain'] * np.asarray(sucC_post_up), color='#333333', lw=1.0)
plot_trace(ax, LC['eata'], 1, [0, C_duration], [0, 0], color='black', lw=2.4)
draw_bursts(ax, LC['eata'], burst_times(eaC_window, len(eaC_up)), eaC_up, eaC_dn, '#555555', 2.2)
draw_bursts(ax, LC['eata'], eaC_post_t, eaC_post_up, eaC_post_dn, '#333333', 2.8)
ts, vs = integ_wave(ieC_window, ieC_peak)
plot_trace(ax, LC['ie'], 1, ieC_pre_t + ts + ieC_post_t, ieC_pre_v + vs + ieC_post_v,
           color='#555555', lw=1.0)
plot_trace(ax, LC['resp'], 1, respC_t, respC_v, color='#5a5a5a', lw=1.0)
ts, vs = osc_wave(trC_osc_window, trC_osc_amp, trC_osc_mid)
plot_trace(ax, LC['trach'], 1, trC_pre_t + ts + trC_post_t, trC_pre_v + vs + trC_post_v,
           color='#555555', lw=1.0)
draw_ecg(ax, LC['ecg'], ecgC_base_t, ecgC_base_v, ecgC_start, ecgC_end, ecgC_rr, ecgC_h, ecgC_d,
         '#222222', 2.4, 0.9, extra=(ecgC_extra_t, ecgC_extra_h, ecgC_extra_d))
for tf in C_feed:
    draw_dashed(ax, tf, 948, 1362)

ftext(162, 964, 'C', ha='center', fontsize=15, fontweight='bold')
for s, y, xr in [('Sucking', 990, 303), ('EAta', 1048, 296), ('\u222bEAta', 1131, 301),
                 ('Respiratory', 1197, 302), ('movements', 1221, 302), ('Tracheal', 1272, 302),
                 ('pressure', 1297, 302), ('ECG', 1340, 302)]:
    ftext(xr, y, s, ha='right', fontsize=LABEL_FS)
ftext(683, 1160, 'apnea', ha='center', fontsize=SMALL_FS)
fline([509.3, 867.7], [1174, 1174], color='#333333', lw=1.1)
for s, x, y in zip(hrC_labels, [380, 502, 829], [1311, 1312, 1312]):
    ftext(x, y, s, ha='center', fontsize=SMALL_FS)
ftext(938.6, 1143, '\u2605', ha='center', fontsize=13, family=['DejaVu Sans'])
ftext(1139, 972, '50', ha='right', fontsize=13)
ftext(1134, 1000, '0', ha='right', fontsize=13)
fline([1143.5, 1143.5], [965, 998], color='#555555', lw=1.0)
ftext(1151, 981, 'mmHg', ha='left', fontsize=SMALL_FS)
ftext(1132, 1276, '3', ha='center', fontsize=11.5)
ftext(1132, 1292, '0', ha='center', fontsize=11.5)
fline([1143, 1143], [1278, 1290], color='#555555', lw=1.0)
ftext(1146, 1285, 'cmH\u2082O', ha='left', fontsize=SMALL_FS)
ftext(941, 1268, 'lost signal', ha='left', fontsize=SMALL_FS)
fig.add_artist(FancyArrowPatch((932.4 / W, 1 - 1272.7 / H), (906.6 / W, 1 - 1272.7 / H),
                               transform=fig.transFigure, arrowstyle='-|>', mutation_scale=11,
                               lw=1.0, color='black'))
ftext(1120, 1367, '4 sec', ha='right', fontsize=12)

# frame
fig.add_artist(Rectangle((8 / W, 1 - 1370 / H), 1340 / W, 1362 / H, transform=fig.transFigure,
                         fill=False, ec='#9a9a9a', lw=1.0))

fig.savefig('out.png', dpi=100)
